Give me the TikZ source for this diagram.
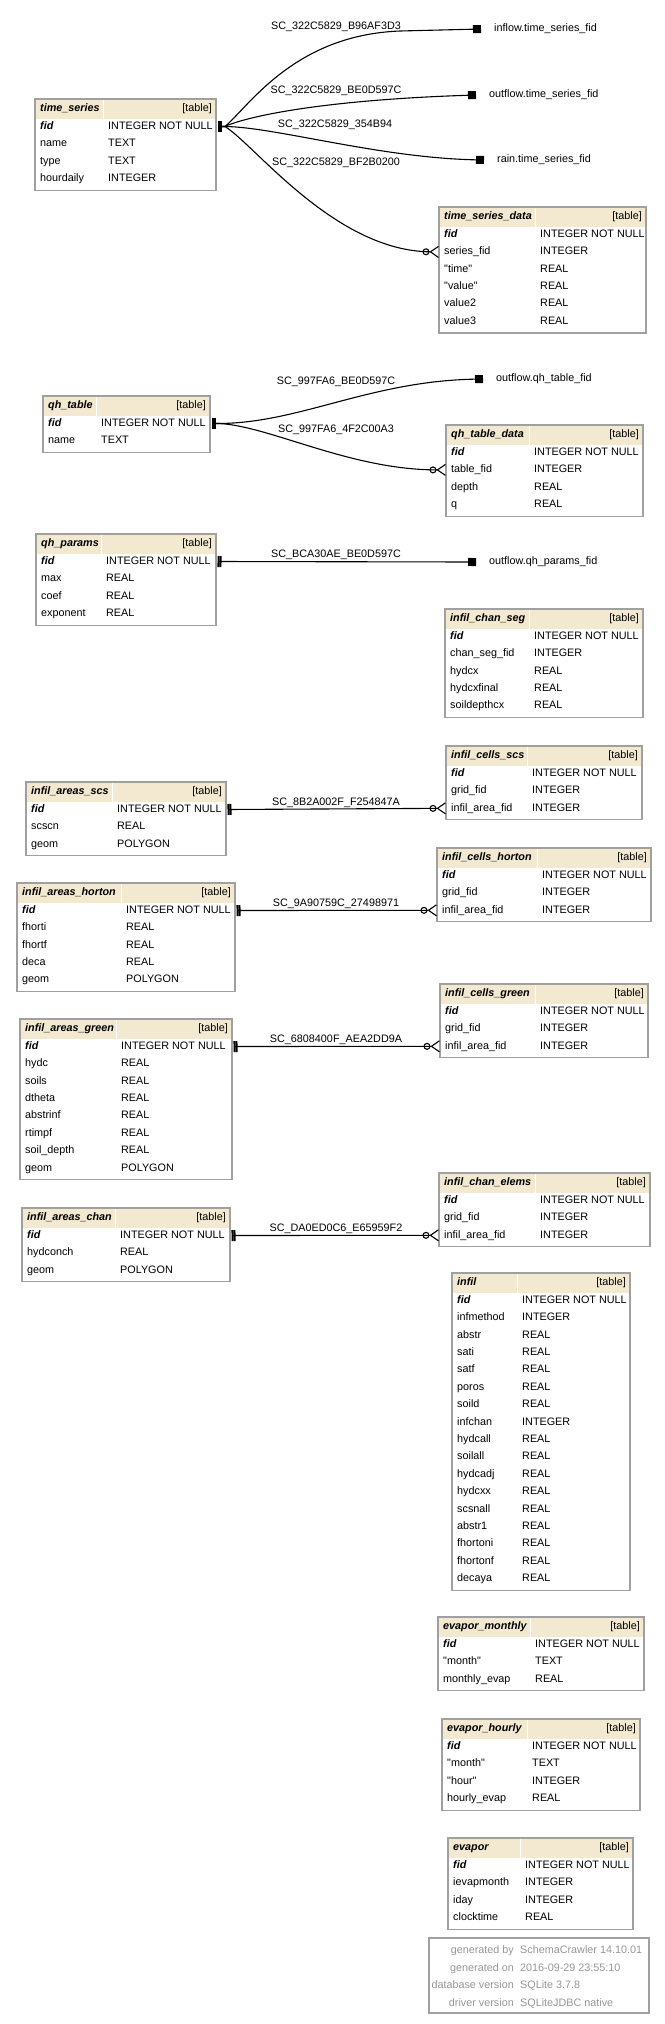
\documentclass[tikz,border=0pt]{standalone}
\usepackage{fontspec}
\setmainfont{Liberation Sans}
\usetikzlibrary{arrows.meta,positioning}
\definecolor{headfill}{RGB}{242,233,208}
\definecolor{framegray}{RGB}{160,160,160}
\definecolor{footgray}{RGB}{150,150,150}
\newcommand{\tblfont}{\fontsize{10.8pt}{13pt}\selectfont}
\newcommand{\dq}{\textquotedbl}
\tikzset{
  cell/.style={font=\tblfont, inner sep=0pt, text height=7.8pt, text depth=2.2pt},
  colname/.style={cell, anchor=west},
  coltype/.style={cell, anchor=west},
  tbltitle/.style={cell, anchor=west, font=\tblfont\bfseries\itshape},
  tblkind/.style={cell, anchor=east},
  tblhead/.style={fill=headfill},
  tblframe/.style={draw=framegray, line width=1.3pt},
  relname/.style={cell},
  fkref/.style={cell, inner sep=1pt},
  footkey/.style={cell, anchor=east, text=footgray},
  footval/.style={cell, anchor=west, text=footgray},
  onefk/.style={line width=1.1pt, arrows={{Bar[width=11pt,line width=2pt,sep=1.5pt]Bar[width=11pt,line width=2pt]}-{Square[length=8pt,width=8pt]}}},
  onemany/.style={line width=1.1pt, arrows={{Bar[width=11pt,line width=2pt,sep=1.5pt]Bar[width=11pt,line width=2pt]}-{Circle[open,length=7pt,width=7pt]Straight Barb[reversed,length=8pt,width=11pt]}}}
}
\newcommand{\dbtable}[8]{%
  \fill[tblhead] (#2,#3) rectangle (#4,#3+19.5);
  \draw[white, line width=0.6pt] (#5-5,#3) -- (#5-5,#3+19.5);
  \draw[tblframe] (#2,#3) rectangle (#4,{#3+39+17.4*(#7-1)});
  \node[tbltitle] (#1-t) at (#2+5,#3+10) {#6};
  \node[tblkind] (#1-k) at (#4-4,#3+10) {[table]};
  \node[colname, font=\tblfont\bfseries\itshape] (#1-n0) at (#2+5,#3+27.5) {fid};
  \node[coltype] (#1-v0) at (#5,#3+27.5) {INTEGER NOT NULL};
  \coordinate (#1-l0) at (#2,#3+27.5);
  \coordinate (#1-r0) at (#4,#3+27.5);
  \foreach \cname/\ctype [count=\i] in {#8}{
    \node[colname] (#1-n\i) at (#2+5,{#3+27.5+17.4*\i}) {\cname};
    \node[coltype] (#1-v\i) at (#5,{#3+27.5+17.4*\i}) {\ctype};
    \coordinate (#1-l\i) at (#2,{#3+27.5+17.4*\i});
    \coordinate (#1-r\i) at (#4,{#3+27.5+17.4*\i});
  }%
}
\begin{document}
\begin{tikzpicture}[x=1pt,y=-1pt]
\useasboundingbox (0,0) rectangle (664,2024);
\dbtable{ts}{35}{99}{216}{108}{time\_series}{4}{name/TEXT, type/TEXT, hourdaily/INTEGER}
\dbtable{tsd}{439}{207}{646}{540}{time\_series\_data}{6}{series\_fid/INTEGER, \dq time\dq/REAL, \dq value\dq/REAL, value2/REAL, value3/REAL}
\dbtable{qh}{43}{396}{210}{101}{qh\_table}{2}{name/TEXT}
\dbtable{qhd}{446}{425}{643}{534}{qh\_table\_data}{4}{table\_fid/INTEGER, depth/REAL, q/REAL}
\dbtable{qhp}{36}{534}{216}{106}{qh\_params}{4}{max/REAL, coef/REAL, exponent/REAL}
\dbtable{ics}{445}{609}{643}{534}{infil\_chan\_seg}{5}{chan\_seg\_fid/INTEGER, hydcx/REAL, hydcxfinal/REAL, soildepthcx/REAL}
\dbtable{icscs}{446}{746}{642}{532}{infil\_cells\_scs}{3}{grid\_fid/INTEGER, infil\_area\_fid/INTEGER}
\dbtable{iascs}{26}{782}{226}{117}{infil\_areas\_scs}{3}{scscn/REAL, geom/POLYGON}
\dbtable{ichor}{437}{848}{651}{542}{infil\_cells\_horton}{3}{grid\_fid/INTEGER, infil\_area\_fid/INTEGER}
\dbtable{iahor}{17}{883}{235}{126}{infil\_areas\_horton}{5}{fhorti/REAL, fhortf/REAL, deca/REAL, geom/POLYGON}
\dbtable{icgrn}{440}{984}{648}{540}{infil\_cells\_green}{3}{grid\_fid/INTEGER, infil\_area\_fid/INTEGER}
\dbtable{iagrn}{20}{1019}{232}{121}{infil\_areas\_green}{8}{hydc/REAL, soils/REAL, dtheta/REAL, abstrinf/REAL, rtimpf/REAL, soil\_depth/REAL, geom/POLYGON}
\dbtable{icel}{439}{1173}{650}{540}{infil\_chan\_elems}{3}{grid\_fid/INTEGER, infil\_area\_fid/INTEGER}
\dbtable{iachan}{22}{1208}{230}{120}{infil\_areas\_chan}{3}{hydconch/REAL, geom/POLYGON}
\dbtable{inf}{452}{1273}{630}{522}{infil}{17}{infmethod/INTEGER, abstr/REAL, sati/REAL, satf/REAL, poros/REAL, soild/REAL, infchan/INTEGER, hydcall/REAL, soilall/REAL, hydcadj/REAL, hydcxx/REAL, scsnall/REAL, abstr1/REAL, fhortoni/REAL, fhortonf/REAL, decaya/REAL}
\dbtable{evm}{438}{1617}{644}{535}{evapor\_monthly}{3}{\dq month\dq/TEXT, monthly\_evap/REAL}
\dbtable{evh}{442}{1719}{640}{532}{evapor\_hourly}{4}{\dq month\dq/TEXT, \dq hour\dq/INTEGER, hourly\_evap/REAL}
\dbtable{ev}{448}{1838}{633}{525}{evapor}{4}{ievapmonth/INTEGER, iday/INTEGER, clocktime/REAL}
\coordinate (inflow) at (481,29);
\coordinate (tsout) at (476,95);
\coordinate (rain) at (484,160);
\coordinate (qhout) at (483,379);
\coordinate (qhpout) at (476,562);
\node[fkref, right=12pt of inflow] (inflow-t) {inflow.time\_series\_fid};
\node[fkref, right=12pt of tsout] (tsout-t) {outflow.time\_series\_fid};
\node[fkref, right=12pt of rain] (rain-t) {rain.time\_series\_fid};
\node[fkref, right=12pt of qhout] (qhout-t) {outflow.qh\_table\_fid};
\node[fkref, right=12pt of qhpout] (qhpout-t) {outflow.qh\_params\_fid};
\draw[onefk] (ts-r0) -- ++(9,0) .. controls (250,105) and (295,35) .. (400,31) -- (inflow);
\draw[onefk] (ts-r0) -- ++(9,0) .. controls (245,117) and (320,100) .. (tsout);
\draw[onefk] (ts-r0) -- ++(9,0) .. controls (275,127) and (380,158) .. (rain);
\draw[onemany] (ts-r0) -- ++(9,0) .. controls (255,145) and (335,251) .. (tsd-l1);
\draw[onefk] (qh-r0) -- ++(9,0) .. controls (300,423) and (370,381) .. (qhout);
\draw[onemany] (qh-r0) -- ++(9,0) .. controls (270,426) and (350,470) .. (qhd-l1);
\draw[onefk] (qhp-r0) -- (qhpout);
\draw[onemany] (iascs-r0) -- (icscs-l2);
\draw[onemany] (iahor-r0) -- (ichor-l2);
\draw[onemany] (iagrn-r0) -- (icgrn-l2);
\draw[onemany] (iachan-r0) -- (icel-l2);
\node[relname] (rel1) at (336,27) {SC\_322C5829\_B96AF3D3};
\node[relname] (rel2) at (336,91) {SC\_322C5829\_BE0D597C};
\node[relname] (rel3) at (335,125) {SC\_322C5829\_354B94};
\node[relname] (rel4) at (336,163) {SC\_322C5829\_BF2B0200};
\node[relname] (rel5) at (336,382) {SC\_997FA6\_BE0D597C};
\node[relname] (rel6) at (336,430) {SC\_997FA6\_4F2C00A3};
\node[relname] (rel7) at (336,555) {SC\_BCA30AE\_BE0D597C};
\node[relname] (rel8) at (336,803) {SC\_8B2A002F\_F254847A};
\node[relname] (rel9) at (336,904) {SC\_9A90759C\_27498971};
\node[relname] (rel10) at (336,1040) {SC\_6808400F\_AEA2DD9A};
\node[relname] (rel11) at (336,1229) {SC\_DA0ED0C6\_E65959F2};
\draw[draw=framegray, line width=1.2pt] (429,1938) rectangle (649,2013);
\node[footkey] (foot1) at (514,1951) {generated by};
\node[footval] (foot2) at (520,1951) {SchemaCrawler 14.10.01};
\node[footkey] (foot3) at (514,1968.5) {generated on};
\node[footval] (foot4) at (520,1968.5) {2016-09-29 23:55:10};
\node[footkey] (foot5) at (514,1986) {database version};
\node[footval] (foot6) at (520,1986) {SQLite 3.7.8};
\node[footkey] (foot7) at (514,2003.5) {driver version};
\node[footval] (foot8) at (520,2003.5) {SQLiteJDBC native};
\end{tikzpicture}
\end{document}
